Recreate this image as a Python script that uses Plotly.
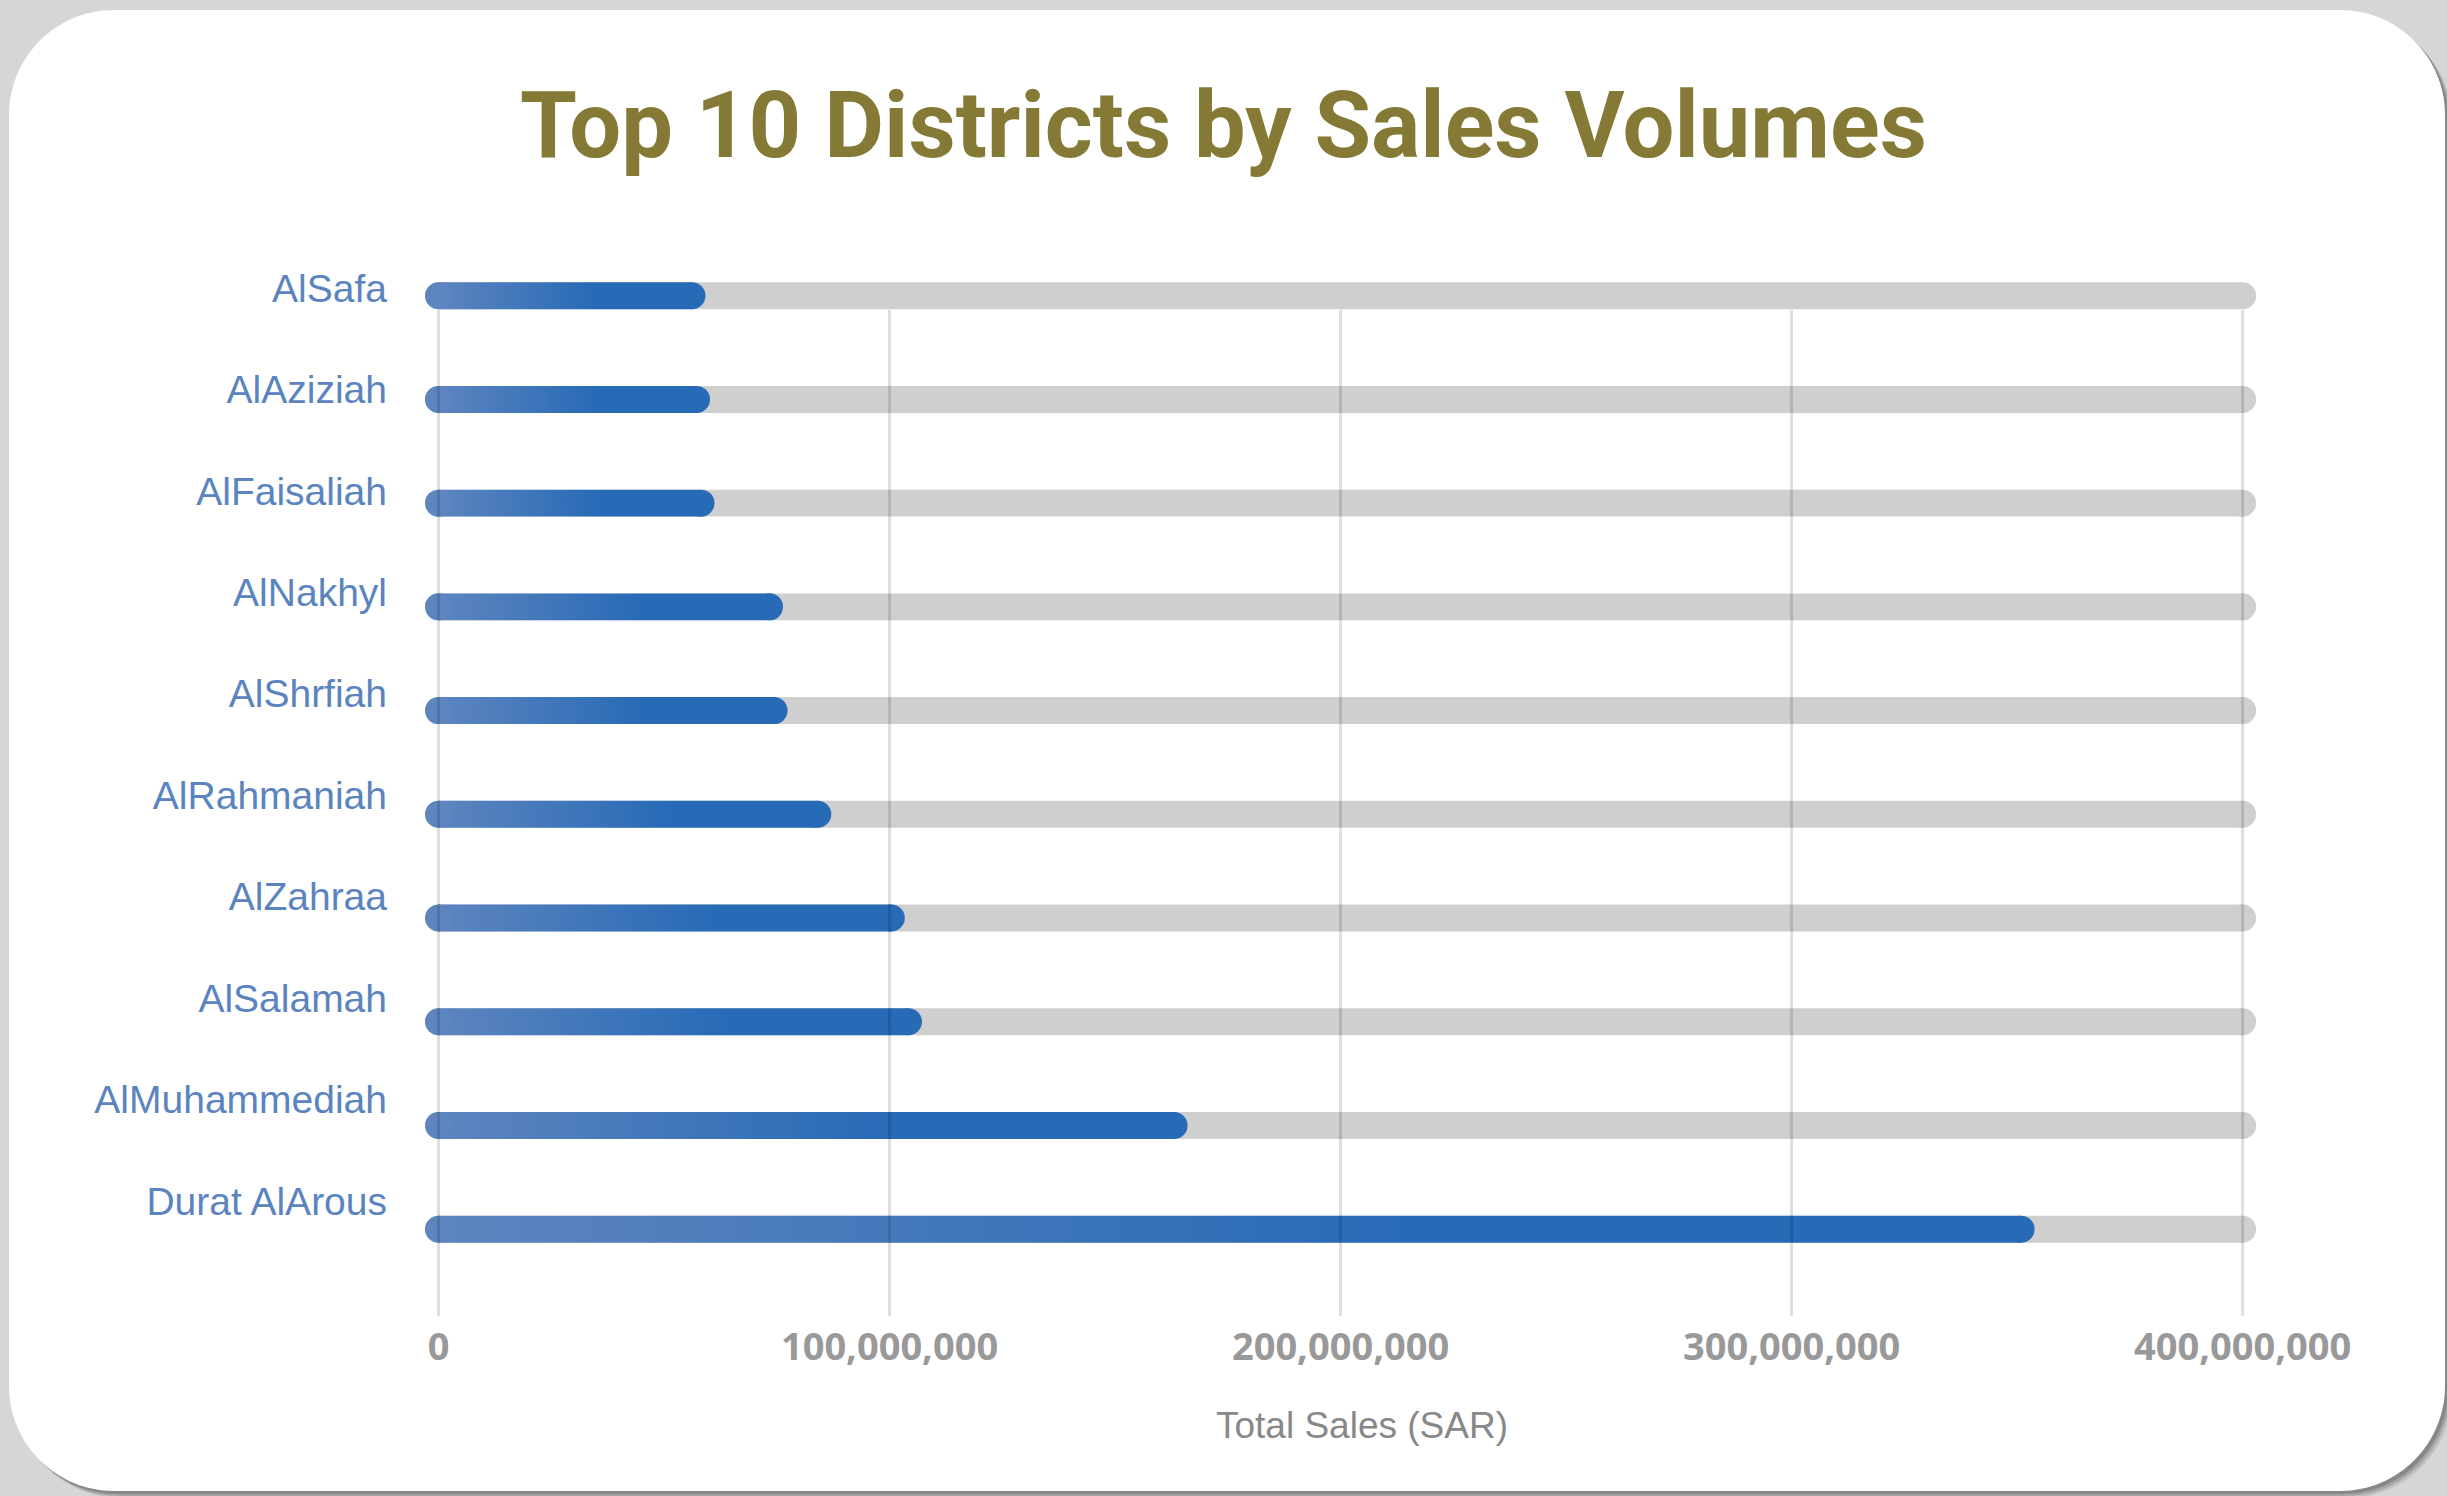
import plotly.graph_objects as go

# Sales per district (SAR), listed top to bottom as drawn
districts = ["AlSafa", "AlAziziah", "AlFaisaliah", "AlNakhyl", "AlShrfiah",
             "AlRahmaniah", "AlZahraa", "AlSalamah", "AlMuhammediah", "Durat AlArous"]
sales = [56.2e6, 57.2e6, 58.2e6, 73.4e6, 74.4e6,
         84.1e6, 100.4e6, 104.2e6, 163.1e6, 350.9e6]
track_max = 400e6
tick_values = [0, 100e6, 200e6, 300e6, 400e6]

W, H = 2447, 1496
TITLE_COLOR = "#857a35"
LABEL_COLOR = "#5b84bf"
TICK_COLOR = "#999999"
TRACK_COLOR = "#cfcfcf"
BLUE_LIGHT = "#5d85bf"
BLUE_DARK = "#276ab6"
BAR_HALF = 0.13      # half bar thickness, in category units
CAP_SIZE = 27        # diameter of the rounded bar ends, px
LABEL_TOP = 9.074    # row position of the first district label
LABEL_PITCH = 0.978  # label spacing relative to the bar spacing

n = len(districts)
rows = [n - 1 - i for i in range(n)]
label_rows = [LABEL_TOP - i * LABEL_PITCH for i in range(n)]


def px_x(p):
    return p / W


def px_y(p):
    return 1 - p / H


def rounded_rect(x0, y0, x1, y1, r):
    """Rounded rectangle path in paper coordinates from pixel corners."""
    k = 0.5523 * r
    X, Y = px_x, px_y
    pts = [
        f"M{X(x0 + r)},{Y(y0)}",
        f"L{X(x1 - r)},{Y(y0)}",
        f"C{X(x1 - r + k)},{Y(y0)} {X(x1)},{Y(y0 + r - k)} {X(x1)},{Y(y0 + r)}",
        f"L{X(x1)},{Y(y1 - r)}",
        f"C{X(x1)},{Y(y1 - r + k)} {X(x1 - r + k)},{Y(y1)} {X(x1 - r)},{Y(y1)}",
        f"L{X(x0 + r)},{Y(y1)}",
        f"C{X(x0 + r - k)},{Y(y1)} {X(x0)},{Y(y1 - r + k)} {X(x0)},{Y(y1 - r)}",
        f"L{X(x0)},{Y(y0 + r)}",
        f"C{X(x0)},{Y(y0 + r - k)} {X(x0 + r - k)},{Y(y0)} {X(x0 + r)},{Y(y0)}",
        "Z",
    ]
    return " ".join(pts)


def capsule(x_end, yc, left_color, right_color, **fill):
    """A horizontal bar from 0 to x_end with round ends drawn as markers."""
    xs = [0, 0, x_end, x_end, x_end, 0, 0]
    ys = [yc, yc - BAR_HALF, yc - BAR_HALF, yc, yc + BAR_HALF, yc + BAR_HALF, yc]
    sizes = [CAP_SIZE, 0, 0, CAP_SIZE, 0, 0, 0]
    colors = [left_color, left_color, right_color, right_color, right_color, left_color, left_color]
    return go.Scatter(
        x=xs, y=ys, mode="markers", fill="toself",
        marker=dict(size=sizes, color=colors, line=dict(width=0), opacity=1),
        hoverinfo="skip", showlegend=False, **fill,
    )


fig = go.Figure()

# grey background tracks
for yc in rows:
    fig.add_trace(capsule(track_max, yc, TRACK_COLOR, TRACK_COLOR, fillcolor=TRACK_COLOR))

# blue value bars with a left-to-right gradient
for yc, v in zip(rows, sales):
    fig.add_trace(capsule(
        v, yc, BLUE_LIGHT, BLUE_DARK,
        fillgradient=dict(type="horizontal",
                          colorscale=[[0, BLUE_LIGHT], [0.62, BLUE_DARK], [1, BLUE_DARK]]),
    ))

shapes = []
# card shadow and white card
for off, alpha in [(7, 0.10), (5, 0.14), (3, 0.18)]:
    shapes.append(dict(type="path", xref="paper", yref="paper", layer="below",
                       path=rounded_rect(9 + off, 10 + off, 2445 + off, 1491 + off, 105),
                       fillcolor=f"rgba(0,0,0,{alpha})", line=dict(width=0)))
shapes.append(dict(type="path", xref="paper", yref="paper", layer="below",
                   path=rounded_rect(9, 10, 2445, 1491, 105),
                   fillcolor="white", line=dict(width=0)))

# vertical grid lines, drawn over the bars
for tv in tick_values:
    shapes.append(dict(type="line", xref="x", yref="y domain", layer="above",
                       x0=tv, x1=tv, y0=0, y1=0.7644,
                       line=dict(color="rgba(0,0,0,0.13)", width=3)))

# plot area geometry
x_left_px, x_right_px = 400, 2324
zero_px, max_px = 438.5, 2242.6
scale = (max_px - zero_px) / track_max
x_range = [(x_left_px - zero_px) / scale, (x_right_px - zero_px) / scale]

axis_px = 1316
top_row_px, row_step_px = 295.7, 103.72
y_range = [(n - 1) - (axis_px - top_row_px) / row_step_px,
           (n - 1) + top_row_px / row_step_px]

fig.update_layout(
    width=W, height=H,
    margin=dict(l=0, r=0, t=0, b=0, autoexpand=False),
    paper_bgcolor="#d6d6d6",
    plot_bgcolor="rgba(0,0,0,0)",
    template="none",
    shapes=shapes,
    title=dict(
        text="Top 10 Districts by Sales Volumes",
        x=0.5, xanchor="center", xref="paper",
        y=1 - 125 / H, yanchor="middle", yref="container",
        font=dict(family="Roboto", size=92, weight=700, color=TITLE_COLOR),
    ),
    xaxis=dict(
        domain=[px_x(x_left_px), px_x(x_right_px)],
        range=x_range,
        tickvals=tick_values,
        tickformat=",d",
        tickfont=dict(family="Open Sans", size=38, weight=700, color=TICK_COLOR),
        ticklabelstandoff=5,
        ticks="", showgrid=False, zeroline=False, showline=False,
        automargin=False,
        title=dict(text="Total Sales (SAR)", standoff=42,
                   font=dict(family="Liberation Sans", size=37, color="#888888")),
    ),
    yaxis=dict(
        domain=[1 - axis_px / H, 1],
        range=y_range,
        tickvals=label_rows,
        ticktext=districts,
        tickfont=dict(family="Liberation Sans", size=39, color=LABEL_COLOR),
        ticklabelstandoff=12,
        ticks="", showgrid=False, zeroline=False, showline=False,
        automargin=False,
    ),
)

fig.write_html("out.html")
